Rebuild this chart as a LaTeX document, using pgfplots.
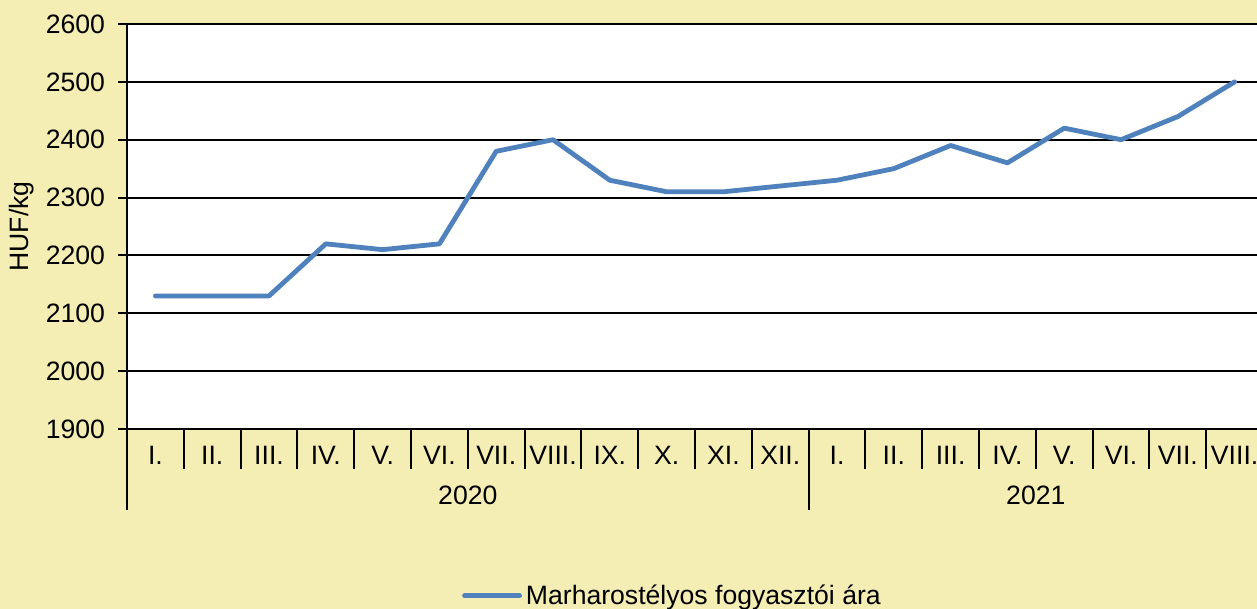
\documentclass[border=0pt]{standalone}
\usepackage{pgfplots}
\pgfplotsset{compat=1.18}
\usepackage{fontspec}
\setmainfont{Liberation Sans}
\definecolor{bgy}{RGB}{245,238,180}
\definecolor{lineblue}{RGB}{79,129,189}
\begin{document}
\begin{tikzpicture}[font=\fontsize{13.3pt}{16pt}\selectfont]
\fill[bgy] (0,0) rectangle (628.5pt,304.5pt);
\path[use as bounding box] (0,0) rectangle (628.5pt,304.5pt);
\begin{axis}[
  at={(63.5pt,90pt)}, anchor=south west,
  width=565pt, height=202.5pt, scale only axis,
  xmin=-0.5, xmax=19.394, ymin=1900, ymax=2600,
  axis lines*=left,
  axis line style={line width=1pt, black},
  axis background/.style={fill=white},
  ytick={1900,2000,...,2600},
  ymajorgrids, grid style={black, line width=1pt},
  tick align=outside,
  major tick length=4.5pt,
  ytick style={line width=1pt, black},
  xtick={0,...,19},
  xticklabels={I.,II.,III.,IV.,V.,VI.,VII.,VIII.,IX.,X.,XI.,XII.,I.,II.,III.,IV.,V.,VI.,VII.,VIII.},
  xtick style={draw=none},
  xticklabel style={yshift=-0.5pt},
  yticklabel style={xshift=-3pt, /pgf/number format/1000 sep={}},
  tick label style={font=\fontsize{13.3pt}{16pt}\selectfont},
  /pgf/number format/assume math mode=true,
  ylabel={HUF/kg},
  ylabel style={at={(axis description cs:-0.0929,0.5)}, anchor=center},
  legend style={at={(axis description cs:0.4836,-0.412)}, anchor=center, draw=none, fill=none, font=\fontsize{13.3pt}{16pt}\selectfont, inner sep=0pt},
  legend image code/.code={\draw[#1] (0pt,0pt) -- (27.5pt,0pt);},
  clip=false,
]
\addplot[lineblue, line width=2.4pt, line join=round, line cap=round] coordinates {
(0,2130) (1,2130) (2,2130) (3,2220) (4,2210) (5,2220) (6,2380) (7,2400)
(8,2330) (9,2310) (10,2310) (11,2320) (12,2330) (13,2350) (14,2390)
(15,2360) (16,2420) (17,2400) (18,2440) (19,2500)
};
\addlegendentry{Marharostélyos fogyasztói ára}
\pgfplotsinvokeforeach{0.5,1.5,2.5,3.5,4.5,5.5,6.5,7.5,8.5,9.5,10.5,12.5,13.5,14.5,15.5,16.5,17.5,18.5}{
  \draw[line width=1pt] (axis cs:#1,1900) -- ++(0pt,-20pt);
}
\draw[line width=1pt] (axis cs:-0.5,1900) -- ++(0pt,-40.5pt);
\draw[line width=1pt] (axis cs:11.5,1900) -- ++(0pt,-40.5pt);
\node at ([yshift=-33pt]axis cs:5.5,1900) {2020};
\node at ([yshift=-33pt]axis cs:15.5,1900) {2021};
\end{axis}
\end{tikzpicture}
\end{document}
